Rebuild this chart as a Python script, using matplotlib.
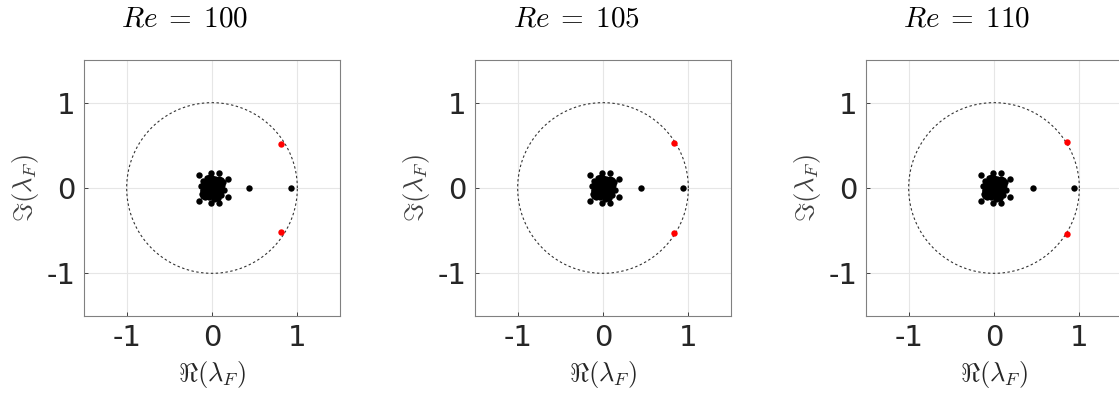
#!/usr/bin/env python3
# -*- coding: utf-8 -*-
"""Floquet multipliers in the complex plane for three Reynolds numbers."""

import numpy as np

import matplotlib

matplotlib.use("Agg")
import matplotlib.pyplot as plt

plt.rcParams["mathtext.fontset"] = "cm"
plt.rcParams["axes.unicode_minus"] = False

RE_VALUES = [100, 105, 110]

# dense core of stable multipliers (same cluster for each case)
CORE_RE = [0.00, 0.04, -0.04, 0.08, -0.08, 0.02, -0.02, 0.06, -0.06, 0.10, -0.10,
           0.03, -0.03, 0.07, -0.07, 0.00, 0.05, -0.05, 0.11, -0.09, 0.09, 0.01,
           0.12, -0.11, 0.04, -0.04, 0.08, -0.08, 0.00, 0.06, -0.06, 0.02, -0.02,
           0.13, -0.12, 0.10, -0.10, 0.05, -0.05, 0.00, 0.03, -0.03, 0.09, -0.07,
           0.14, -0.13, 0.01, -0.01, 0.07, -0.06, 0.11, -0.11]
CORE_IM = [0.00, 0.03, -0.03, 0.05, -0.05, 0.08, -0.08, 0.09, -0.09, 0.02, -0.02,
           0.11, -0.11, -0.07, 0.07, 0.12, -0.12, 0.12, 0.00, 0.06, -0.06, 0.05,
           0.04, -0.04, -0.10, 0.10, 0.11, -0.11, -0.06, 0.00, 0.00, -0.13, 0.13,
           0.07, -0.07, -0.08, 0.08, 0.04, -0.04, 0.09, -0.05, 0.05, -0.03, 0.02,
           -0.02, 0.02, -0.09, 0.10, -0.12, 0.12, 0.09, -0.09]

# outer ring of the cluster
RING_RE = [-0.15, -0.01, 0.08, 0.19, -0.15, -0.01, 0.08, 0.19]
RING_IM = [0.15, 0.17, 0.17, 0.11, -0.15, -0.17, -0.17, -0.11]

# real multipliers on the axis
REAL_MULT = [[0.43, 0.93], [0.44, 0.94], [0.46, 0.94]]

# leading complex pair (red)
PAIR_RE = [0.81, 0.83, 0.86]
PAIR_IM = [0.52, 0.53, 0.54]

LEFTS = [84, 475, 866]
FIG_W, FIG_H = 1119, 396
AX_SIZE = 256
AX_BOTTOM = 80
MS = 4.6


def draw_panel(ax, k):
    theta = np.linspace(0, 2 * np.pi, 400)
    ax.plot(np.cos(theta), np.sin(theta), color="#333333", lw=0.8, ls=(0, (2.2, 2.2)))
    ax.plot(CORE_RE, CORE_IM, "o", color="black", ms=MS, mew=0)
    ax.plot(RING_RE, RING_IM, "o", color="black", ms=MS, mew=0)
    ax.plot(REAL_MULT[k], [0] * len(REAL_MULT[k]), "o", color="black", ms=MS, mew=0)
    ax.plot([PAIR_RE[k], PAIR_RE[k]], [PAIR_IM[k], -PAIR_IM[k]], "o", color="red",
            ms=MS, mew=0)

    ax.set_xlim(-1.5, 1.5)
    ax.set_ylim(-1.5, 1.5)
    ax.set_xticks([-1, 0, 1])
    ax.set_yticks([-1, 0, 1])
    ax.set_xticklabels(["-1", "0", "1"])
    ax.set_yticklabels(["-1", "0", "1"])
    ax.grid(True, color="#e6e6e6", lw=0.8)
    ax.set_axisbelow(True)
    ax.tick_params(direction="in", length=3, labelsize=21, colors="#262626",
                   pad=6, width=0.6)
    for sp in ax.spines.values():
        sp.set_color("#808080")
        sp.set_linewidth(0.8)
    ax.set_xlabel(r"$\Re(\lambda_F)$", fontsize=19, labelpad=5, color="#262626")
    ax.set_ylabel(r"$\Im(\lambda_F)$", fontsize=19, labelpad=4, color="#404040")
    ax.set_title(rf"$Re\;=\;{RE_VALUES[k]}$", fontsize=21, pad=24, x=0.395)


def main():
    fig = plt.figure(figsize=(FIG_W / 100, FIG_H / 100), dpi=100)
    for k, left in enumerate(LEFTS):
        ax = fig.add_axes([left / FIG_W, AX_BOTTOM / FIG_H, AX_SIZE / FIG_W, AX_SIZE / FIG_H])
        draw_panel(ax, k)
    fig.savefig("out.png", dpi=100)
    plt.close(fig)


if __name__ == "__main__":
    main()
